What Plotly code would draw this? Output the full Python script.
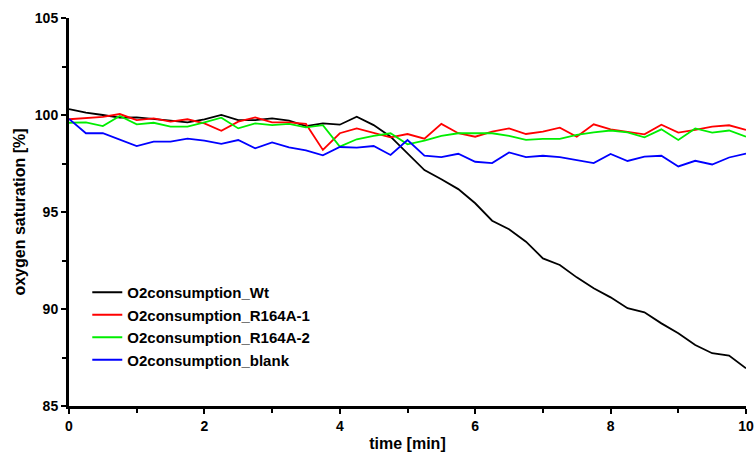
import plotly.graph_objects as go

time_min = [i * 0.25 for i in range(41)]

wt = [100.3, 100.12, 100.0, 99.86, 99.88, 99.78, 99.71, 99.62, 99.78, 100.0,
      99.74, 99.74, 99.83, 99.71, 99.43, 99.57, 99.5, 99.91, 99.48, 98.88,
      98.03, 97.16, 96.69, 96.18, 95.45, 94.55, 94.11, 93.47, 92.61, 92.27,
      91.63, 91.07, 90.6, 90.04, 89.83, 89.26, 88.75, 88.14, 87.72, 87.6, 86.94]

r164a_1 = [99.78, 99.83, 99.9, 100.05, 99.74, 99.83, 99.66, 99.78, 99.57, 99.19,
           99.66, 99.88, 99.62, 99.62, 99.54, 98.2, 99.06, 99.31, 99.09, 98.85,
           99.02, 98.78, 99.54, 99.06, 98.88, 99.14, 99.31, 99.02, 99.14, 99.35,
           98.88, 99.52, 99.26, 99.14, 99.0, 99.5, 99.09, 99.23, 99.4, 99.47, 99.23]

r164a_2 = [99.6, 99.62, 99.43, 99.95, 99.52, 99.6, 99.4, 99.4, 99.62, 99.86,
           99.31, 99.57, 99.48, 99.54, 99.36, 99.48, 98.37, 98.75, 98.92, 99.06,
           98.49, 98.68, 98.92, 99.06, 99.06, 99.06, 98.92, 98.72, 98.77, 98.77,
           98.97, 99.11, 99.2, 99.11, 98.85, 99.26, 98.71, 99.31, 99.09, 99.2, 98.88]

blank = [99.8, 99.06, 99.06, 98.75, 98.4, 98.63, 98.63, 98.78, 98.68, 98.51,
         98.71, 98.28, 98.59, 98.33, 98.18, 97.92, 98.35, 98.32, 98.4, 97.94,
         98.71, 97.9, 97.83, 98.0, 97.59, 97.52, 98.07, 97.83, 97.9, 97.83,
         97.68, 97.52, 97.99, 97.63, 97.85, 97.9, 97.35, 97.64, 97.45, 97.81, 98.01]

series_names = ["O2consumption_Wt", "O2consumption_R164A-1",
                "O2consumption_R164A-2", "O2consumption_blank"]
series_values = [wt, r164a_1, r164a_2, blank]
series_colors = ["#000000", "#ff0000", "#00ee00", "#0000ff"]

fig = go.Figure()
for name, vals, col in zip(series_names, series_values, series_colors):
    fig.add_trace(go.Scatter(x=time_min, y=vals, mode="lines", name=name,
                             line=dict(color=col, width=1.8)))

FONT = "Liberation Sans, Arial, sans-serif"

fig.update_layout(
    width=754, height=453,
    margin=dict(l=69, r=8, t=18, b=47),
    paper_bgcolor="white", plot_bgcolor="white",
    font=dict(family=FONT, color="black"),
    showlegend=True,
    legend=dict(x=0.027, y=0.335, xanchor="left", yanchor="top",
                bgcolor="rgba(0,0,0,0)", borderwidth=0,
                font=dict(family=FONT, size=15, weight="bold", color="black"),
                tracegroupgap=0, itemwidth=30),
)

fig.update_xaxes(
    range=[0, 10], tickvals=[0, 2, 4, 6, 8, 10], automargin=False,
    showgrid=False, zeroline=False,
    showline=True, linecolor="black", linewidth=3,
    ticks="outside", ticklen=5, tickwidth=2, tickcolor="black",
    minor=dict(ticks="outside", dtick=1, ticklen=4, tickwidth=2, tickcolor="black"),
    tickfont=dict(family=FONT, size=14, weight="bold"),
    title=dict(text="time [min]", font=dict(family=FONT, size=16, weight="bold"), standoff=6),
)
fig.update_yaxes(
    range=[85, 105], tickvals=[85, 90, 95, 100, 105], automargin=False,
    showgrid=False, zeroline=False,
    showline=True, linecolor="black", linewidth=3,
    ticks="outside", ticklen=5, tickwidth=2, tickcolor="black",
    minor=dict(ticks="outside", dtick=2.5, ticklen=4, tickwidth=2, tickcolor="black"),
    tickfont=dict(family=FONT, size=14, weight="bold"),
    title=dict(text="oxygen saturation [%]", font=dict(family=FONT, size=16, weight="bold"), standoff=6),
)

fig.write_html("out.html")
